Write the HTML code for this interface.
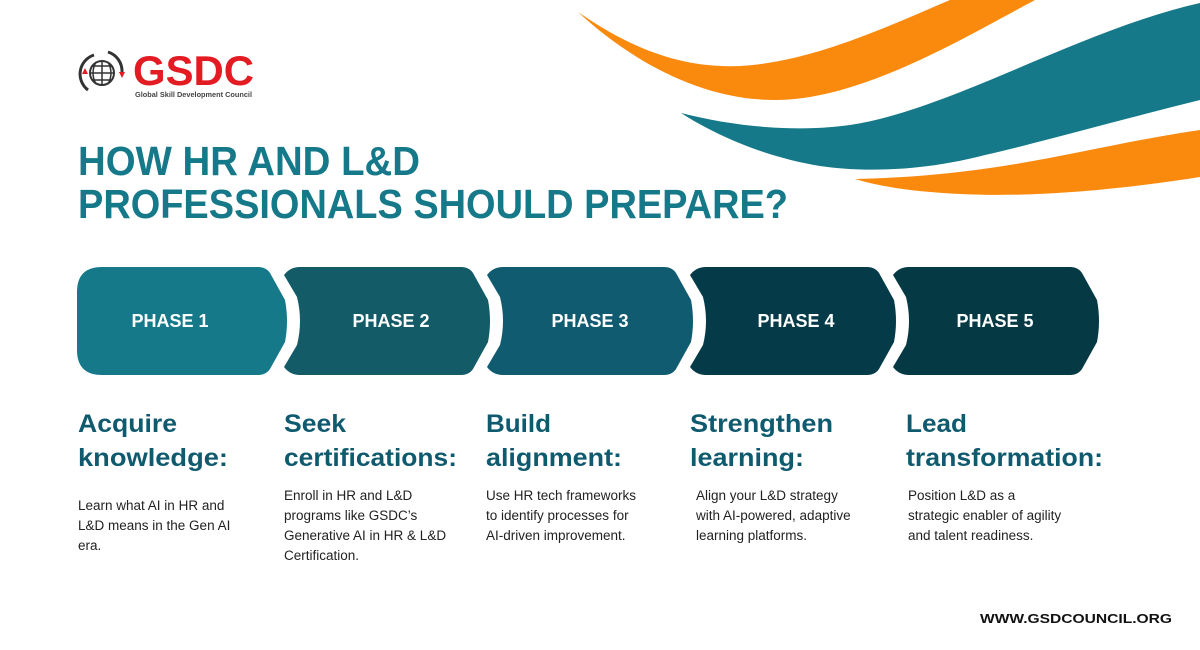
<!DOCTYPE html>
<html><head><meta charset="utf-8"><style>
html,body{margin:0;padding:0;background:#fff;}
svg{display:block;font-family:"Liberation Sans",sans-serif;}
</style></head><body>
<svg width="1200" height="650" viewBox="0 0 1200 650" xmlns="http://www.w3.org/2000/svg">
<rect width="1200" height="650" fill="#fff"/>
<path d="M578,12 C640,55 690,68 740,66 C810,62 880,30 950,0 L1035,0 C960,40 860,100 775,100 C700,100 630,60 578,12 Z" fill="#fa8a0e"/>
<path d="M681,113 C740,128 800,132 850,125 C950,110 1080,30 1200,3 L1200,100 C1100,125 1030,145 985,155 C920,172 860,172 820,166 C770,158 720,138 681,113 Z" fill="#157989"/>
<path d="M855,179 C900,178 940,175 990,168 C1060,158 1130,140 1200,130 L1200,177 C1130,188 1040,198 960,194 C920,192 885,188 855,179 Z" fill="#fa8a0e"/>
<g>
<circle cx="102" cy="73" r="12" fill="none" stroke="#333" stroke-width="2"/>
<path d="M90,73 H114 M102,61 V85 M92,66 H112 M92,80 H112 M96,62 Q90,73 96,84 M108,62 Q114,73 108,84" stroke="#333" stroke-width="1.5" fill="none"/>
<path d="M88,90 A20,20 0 0 1 94,55" stroke="#333" stroke-width="3" fill="none"/>
<path d="M108,52 A20,20 0 0 1 122,72" stroke="#333" stroke-width="3" fill="none"/>
<polygon points="82,74 88,74 85,68" fill="#e31b23"/>
<polygon points="119,72 125,72 122,78" fill="#e31b23"/>
<text x="133" y="85" font-size="42" font-weight="bold" fill="#e31b23" textLength="121" lengthAdjust="spacingAndGlyphs">GSDC</text>
<text x="135" y="97" font-size="7.5" font-weight="bold" fill="#444" textLength="117" lengthAdjust="spacingAndGlyphs">Global Skill Development Council</text>
</g>
<text x="78" y="175" font-size="41" font-weight="bold" fill="#157989" textLength="342" lengthAdjust="spacingAndGlyphs">HOW HR AND L&amp;D</text>
<text x="78" y="218" font-size="41" font-weight="bold" fill="#157989" textLength="710" lengthAdjust="spacingAndGlyphs">PROFESSIONALS SHOULD PREPARE?</text>
<path d="M102,267 L258,267 Q266,267 270,273 L285,300 Q289,321 285,342 L270,369 Q266,375 258,375 L102,375 Q77,375 77,350 L77,292 Q77,267 102,267 Z" fill="#157989"/>
<path d="M300,267 L461,267 Q469,267 473,273 L488,300 Q492,321 488,342 L473,369 Q469,375 461,375 L300,375 Q290,375 284,367 L297,345 Q303,321 297,297 L284,275 Q290,267 300,267 Z" fill="#125b67"/>
<path transform="translate(203,0)" d="M300,267 L461,267 Q469,267 473,273 L488,300 Q492,321 488,342 L473,369 Q469,375 461,375 L300,375 Q290,375 284,367 L297,345 Q303,321 297,297 L284,275 Q290,267 300,267 Z" fill="#115b70"/>
<path transform="translate(406,0)" d="M300,267 L461,267 Q469,267 473,273 L488,300 Q492,321 488,342 L473,369 Q469,375 461,375 L300,375 Q290,375 284,367 L297,345 Q303,321 297,297 L284,275 Q290,267 300,267 Z" fill="#053b48"/>
<path transform="translate(609,0)" d="M300,267 L461,267 Q469,267 473,273 L488,300 Q492,321 488,342 L473,369 Q469,375 461,375 L300,375 Q290,375 284,367 L297,345 Q303,321 297,297 L284,275 Q290,267 300,267 Z" fill="#053a44"/>
<g font-size="18" font-weight="bold" fill="#fff" text-anchor="middle">
<text x="170" y="327">PHASE 1</text>
<text x="391" y="327">PHASE 2</text>
<text x="590" y="327">PHASE 3</text>
<text x="796" y="327">PHASE 4</text>
<text x="995" y="327">PHASE 5</text>
</g>
<g font-size="25" font-weight="bold" fill="#0f5a6e">
<text x="78" y="432" textLength="99" lengthAdjust="spacingAndGlyphs">Acquire</text><text x="78" y="466" textLength="150" lengthAdjust="spacingAndGlyphs">knowledge:</text>
<text x="284" y="432" textLength="62" lengthAdjust="spacingAndGlyphs">Seek</text><text x="284" y="466" textLength="173" lengthAdjust="spacingAndGlyphs">certifications:</text>
<text x="486" y="432" textLength="65" lengthAdjust="spacingAndGlyphs">Build</text><text x="486" y="466" textLength="136" lengthAdjust="spacingAndGlyphs">alignment:</text>
<text x="690" y="432" textLength="143" lengthAdjust="spacingAndGlyphs">Strengthen</text><text x="690" y="466" textLength="114" lengthAdjust="spacingAndGlyphs">learning:</text>
<text x="906" y="432" textLength="61" lengthAdjust="spacingAndGlyphs">Lead</text><text x="906" y="466" textLength="197" lengthAdjust="spacingAndGlyphs">transformation:</text>
</g>
<g font-size="13.5" fill="#222">
<text x="78" y="510">Learn what AI in HR and</text>
<text x="78" y="530">L&amp;D means in the Gen AI</text>
<text x="78" y="550">era.</text>
<text x="284" y="500">Enroll in HR and L&amp;D</text>
<text x="284" y="520">programs like GSDC’s</text>
<text x="284" y="540">Generative AI in HR &amp; L&amp;D</text>
<text x="284" y="560">Certification.</text>
<text x="486" y="500">Use HR tech frameworks</text>
<text x="486" y="520">to identify processes for</text>
<text x="486" y="540">AI-driven improvement.</text>
<text x="696" y="500">Align your L&amp;D strategy</text>
<text x="696" y="520">with AI-powered, adaptive</text>
<text x="696" y="540">learning platforms.</text>
<text x="908" y="500">Position L&amp;D as a</text>
<text x="908" y="520">strategic enabler of agility</text>
<text x="908" y="540">and talent readiness.</text>
</g>
<text x="980" y="623" font-size="13" font-weight="bold" fill="#111" textLength="192" lengthAdjust="spacingAndGlyphs">WWW.GSDCOUNCIL.ORG</text>
</svg>
</body></html>
